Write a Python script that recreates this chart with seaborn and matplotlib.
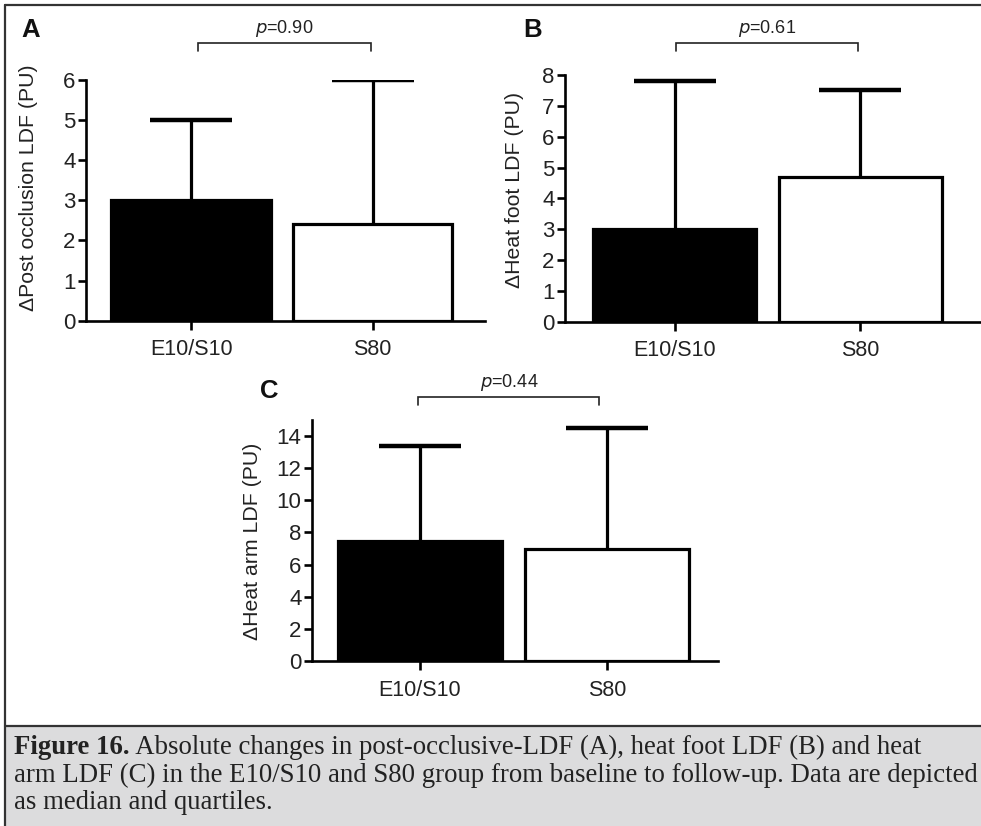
import matplotlib
matplotlib.use("Agg")
import matplotlib.pyplot as plt
import matplotlib.transforms as mtransforms
from matplotlib.patches import Rectangle
from matplotlib.lines import Line2D
import seaborn as sns

# Group labels
groups = ["E10/S10", "S80"]

# Medians and upper quartiles for each measurement
post_occlusion_median = [3.0, 2.4]
post_occlusion_q3 = [5.0, 6.0]
heat_foot_median = [3.0, 4.7]
heat_foot_q3 = [7.8, 7.5]
heat_arm_median = [7.5, 7.0]
heat_arm_q3 = [13.4, 14.5]

# Between-group p values
p_values = ["0.90", "0.61", "0.44"]

y_labels = ["\u0394Post occlusion LDF (PU)", "\u0394Heat foot LDF (PU)", "\u0394Heat arm LDF (PU)"]
panel_letters = ["A", "B", "C"]
y_ticks = [list(range(0, 7)), list(range(0, 9)), list(range(0, 15, 2))]

caption_bold = "Figure 16."
caption_lines = [
    " Absolute changes in post-occlusive-LDF (A), heat foot LDF (B) and heat",
    "arm LDF (C) in the E10/S10 and S80 group from baseline to follow-up. Data are depicted",
    "as median and quartiles.",
]

sns.set_style("ticks")
plt.rcParams["font.family"] = ["Liberation Sans", "DejaVu Sans"]

W, H = 981, 826
fig = plt.figure(figsize=(W / 100, H / 100), dpi=100)


def px_axes(x0, x1, y_top, y_bottom):
    return fig.add_axes([x0 / W, 1 - y_bottom / H, (x1 - x0) / W, (y_bottom - y_top) / H])


# axes boxes in pixels: (left, right, top, bottom), x limits, y max
layouts = [
    ((86, 485, 80, 320.7), (-0.58, 1.62), 6),
    ((565, 981, 75, 321.7), (-0.59, 1.65), 8),
    ((312, 718, 420, 661), (-0.578, 1.594), 15),
]
medians = [post_occlusion_median, heat_foot_median, heat_arm_median]
q3s = [post_occlusion_q3, heat_foot_q3, heat_arm_q3]
letter_pos = [(21, 37), (523, 37), (260, 398)]
ylabel_center_px = [(29, 188), (515, 190), (253, 541)]
bracket_info = [  # (x0, x1, y_line_px, y_tick_px, text_baseline_px)
    (0.04, 0.99, 43, 51, 33),
    (0.005, 0.99, 43, 51, 33),
    (-0.01, 0.96, 397, 405, 387),
]

for i in range(3):
    (x0, x1, yt, yb), xlim, ymax = layouts[i]
    ax = px_axes(x0, x1, yt, yb)
    sns.barplot(x=groups, y=medians[i], hue=groups, palette=["black", "white"],
                edgecolor="black", linewidth=2.3, width=0.88, legend=False,
                saturation=1, ax=ax, zorder=3)
    upper = [q - m for q, m in zip(q3s[i], medians[i])]
    eb = ax.errorbar([0, 1], medians[i], yerr=[[0, 0], upper], fmt="none",
                     ecolor="black", elinewidth=2.3, capsize=29.5, capthick=3.2, zorder=2)
    # only the upper whisker carries a cap
    eb[1][0].set_visible(False)
    ax.set_xlim(*xlim)
    ax.set_ylim(0, ymax)
    ax.set_yticks(y_ticks[i])
    ax.set_ylabel(y_labels[i], fontsize=15.3, color="#222222", va="center")
    lcx, lcy = ylabel_center_px[i]
    ax.yaxis.set_label_coords((lcx - x0) / (x1 - x0), (yb - lcy) / (yb - yt))
    ax.set_xlabel("")
    sns.despine(ax=ax)
    for s in ("left", "bottom"):
        ax.spines[s].set_linewidth(1.9)
        ax.spines[s].set_color("black")
    ax.tick_params(axis="y", length=6, width=1.9, labelsize=16, pad=1.5, colors="black",
                   labelcolor="#222222")
    ax.tick_params(axis="x", length=6.5, width=1.9, labelsize=15.5, pad=7, colors="black",
                   labelcolor="#222222")
    ax.set_facecolor("none")

    # significance bracket
    bx0, bx1, ly, ty, tb = bracket_info[i]
    tr = mtransforms.blended_transform_factory(ax.transData, fig.transFigure)
    fy = lambda p: 1 - p / H
    ax.plot([bx0, bx0, bx1, bx1], [fy(ty), fy(ly), fy(ly), fy(ty)], transform=tr,
            color="#222222", lw=1.2, clip_on=False, solid_joinstyle="miter")
    ax.text((bx0 + bx1) / 2, fy(tb), r"$\it{p}$=" + p_values[i], transform=tr,
            ha="center", va="baseline", fontsize=13, color="#222222")

    lx, ly2 = letter_pos[i]
    fig.text(lx / W, 1 - ly2 / H, panel_letters[i], fontsize=18.5, fontweight="bold",
             ha="left", va="baseline", color="#111111")

# outer frame and caption box
frame_col = "#333333"
fig.add_artist(Rectangle((5 / W, 0), 1 - 5 / W, (H - 726) / H, transform=fig.transFigure,
                         facecolor="#dcdcdd", edgecolor="none", zorder=0))
fig.add_artist(Line2D([5 / W, 5 / W], [0, 1 - 5 / H], transform=fig.transFigure,
                      color=frame_col, lw=1.6))
fig.add_artist(Line2D([5 / W, 1], [1 - 5 / H, 1 - 5 / H], transform=fig.transFigure,
                      color=frame_col, lw=1.6))
fig.add_artist(Line2D([5 / W, 1], [1 - 726 / H, 1 - 726 / H], transform=fig.transFigure,
                      color=frame_col, lw=1.6))

serif = ["Liberation Serif", "DejaVu Serif"]
cap_size = 19.3
baselines = [754, 782, 809]
renderer = fig.canvas.get_renderer()
t_bold = fig.text(14 / W, 1 - baselines[0] / H, caption_bold, family=serif,
                  fontweight="bold", fontsize=cap_size, color="#222222", va="baseline")
bb = t_bold.get_window_extent(renderer=renderer)
fig.text(bb.x1 / W, 1 - baselines[0] / H, caption_lines[0], family=serif,
         fontsize=cap_size, color="#222222", va="baseline")
for j in (1, 2):
    fig.text(14 / W, 1 - baselines[j] / H, caption_lines[j], family=serif,
             fontsize=cap_size, color="#222222", va="baseline")

fig.savefig("out.png", dpi=100, facecolor="white")
